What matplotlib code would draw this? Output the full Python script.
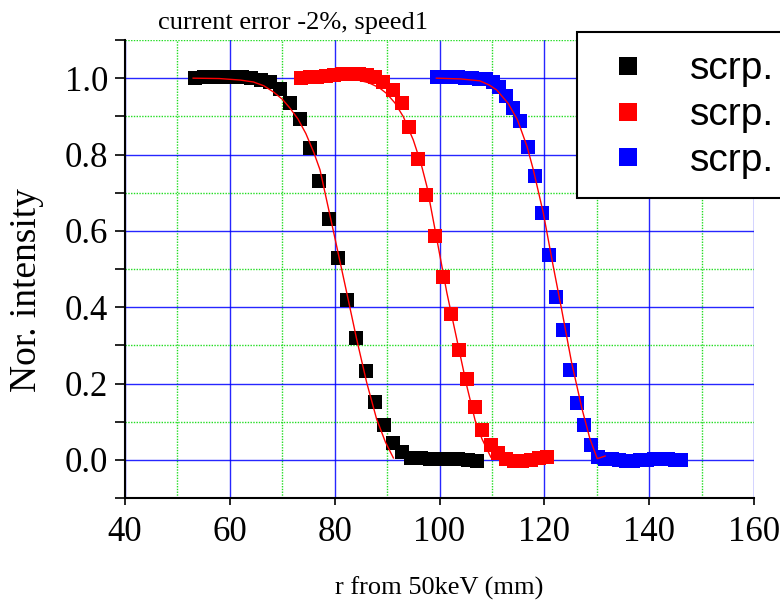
import matplotlib
matplotlib.use("Agg")
import matplotlib.pyplot as plt
from matplotlib.ticker import MultipleLocator

# scan data (position in mm, normalised intensity)
black_x = [53.3, 55.1, 56.9, 58.7, 60.5, 62.3, 64.1, 65.9, 67.7, 69.6, 71.5,
           73.4, 75.3, 77.1, 78.9, 80.6, 82.4, 84.1, 86.0, 87.7, 89.4, 91.1,
           92.8, 94.6, 96.4, 98.2, 100.0, 101.8, 103.6, 105.4, 107.2]
black_y = [1.000, 1.002, 1.003, 1.003, 1.003, 1.002, 1.000, 0.996, 0.990, 0.971, 0.936,
           0.892, 0.816, 0.731, 0.632, 0.529, 0.420, 0.320, 0.232, 0.151, 0.090, 0.044,
           0.021, 0.005, 0.004, 0.003, 0.003, 0.002, 0.001, 0.000, -0.002]

red_x = [73.6, 75.2, 76.7, 78.3, 79.9, 81.4, 83.0, 84.6, 86.1, 87.7, 89.3,
         91.1, 92.8, 94.2, 95.9, 97.5, 99.2, 100.7, 102.2, 103.7, 105.2, 106.8,
         108.2, 109.8, 111.2, 112.7, 114.3, 115.8, 117.4, 119.0, 120.6]
red_y = [1.000, 1.002, 1.004, 1.006, 1.008, 1.010, 1.011, 1.011, 1.009, 1.004, 0.990,
         0.969, 0.936, 0.873, 0.788, 0.695, 0.587, 0.479, 0.381, 0.288, 0.211, 0.139,
         0.078, 0.039, 0.018, 0.001, -0.002, -0.002, 0.000, 0.004, 0.008]

blue_x = [99.6, 100.9, 102.2, 103.6, 104.9, 106.2, 107.6, 108.9,
          110.3, 111.4, 112.7, 114.1, 115.4, 116.9, 118.2, 119.6, 120.9, 122.3,
          123.5, 124.9, 126.2, 127.6, 128.9,
          130.3, 131.6, 132.9, 134.3, 135.6, 136.9, 138.3, 139.6, 140.9, 142.2,
          143.6, 144.9, 146.1]
blue_y = [1.003, 1.003, 1.003, 1.002, 1.001, 1.000, 0.999, 0.997,
          0.990, 0.976, 0.953, 0.922, 0.888, 0.819, 0.744, 0.647, 0.537, 0.426,
          0.339, 0.235, 0.149, 0.090, 0.039,
          0.008, 0.003, 0.001, -0.001, -0.002, -0.002, -0.001, 0.000, 0.001, 0.002,
          0.001, 0.000, -0.001]

# fitted curves as drawn in the chart
fit_black_x = [53.0, 58.0, 62.0, 64.5, 66.5, 68.3, 70.0, 71.5, 73.0, 74.5, 76.0,
               77.2, 79.0, 80.6, 82.3, 84.2, 86.1, 88.0, 89.7, 91.2]
fit_black_y = [1.000, 0.999, 0.995, 0.990, 0.980, 0.964, 0.945, 0.921, 0.893, 0.855, 0.806,
               0.760, 0.647, 0.546, 0.438, 0.316, 0.203, 0.107, 0.046, 0.005]
fit_red_x = [73.5, 80.0, 83.6, 86.5, 88.5, 89.9, 91.5, 93.1, 95.0, 96.5, 97.6,
             99.0, 100.5, 101.4, 103.3, 105.2, 106.8, 108.1, 109.8]
fit_red_y = [1.000, 1.000, 0.998, 0.988, 0.975, 0.960, 0.935, 0.899, 0.838, 0.775, 0.716,
             0.614, 0.504, 0.438, 0.316, 0.194, 0.103, 0.055, 0.007]
fit_blue_x = [99.4, 104.0, 107.7, 109.5, 110.9, 113.1, 114.9, 116.7, 117.9, 119.8,
              121.7, 123.3, 125.2, 127.2, 128.7, 130.1, 131.6]
fit_blue_y = [1.000, 0.998, 0.993, 0.982, 0.969, 0.934, 0.890, 0.821, 0.760, 0.647,
              0.507, 0.394, 0.255, 0.133, 0.055, 0.003, 0.010]

labels = ["scrp.", "scrp.", "scrp."]
colors = ["#000000", "#ff0000", "#0000ff"]

serif = "Liberation Serif"

fig = plt.figure(figsize=(7.8, 6.0), dpi=100)
ax = fig.add_axes([125 / 780, 1 - 498 / 600, 629 / 780, 458 / 600])

series = [(black_x, black_y), (red_x, red_y), (blue_x, blue_y)]
for (xs, ys), c, lab in zip(series, colors, labels):
    ax.plot(xs, ys, "s", color=c, markersize=10, markeredgewidth=0, label=lab, zorder=3)

for fx, fy in [(fit_black_x, fit_black_y), (fit_red_x, fit_red_y), (fit_blue_x, fit_blue_y)]:
    ax.plot(fx, fy, "-", color="#ff0000", linewidth=1.0, zorder=4)

ax.set_xlim(40, 160)
ax.set_ylim(-0.1, 1.1)
ax.xaxis.set_major_locator(MultipleLocator(20))
ax.xaxis.set_minor_locator(MultipleLocator(10))
ax.yaxis.set_major_locator(MultipleLocator(0.2))
ax.yaxis.set_minor_locator(MultipleLocator(0.1))
ax.yaxis.set_major_formatter(plt.FormatStrFormatter("%.1f"))

ax.grid(which="major", color="#0000ff", linewidth=1.0, alpha=0.85, zorder=0)
ax.grid(which="minor", color="#22dd22", linewidth=1.0, linestyle=(0, (1, 1)), zorder=0)
ax.set_axisbelow(True)

for side in ["top", "right"]:
    ax.spines[side].set_visible(False)
for side in ["left", "bottom"]:
    ax.spines[side].set_linewidth(1.5)

ax.tick_params(axis="y", which="both", direction="out", length=7, width=1.2, pad=5)
ax.tick_params(axis="x", which="major", direction="out", length=5, width=1.2, pad=8)
ax.tick_params(axis="x", which="minor", length=0)
for lab in ax.get_xticklabels() + ax.get_yticklabels():
    lab.set_fontfamily(serif)
    lab.set_fontsize(25)

fig.text(158 / 780, 1 - 29 / 600, "current error -2%, speed1",
         fontfamily=serif, fontsize=19, va="baseline", ha="left")
fig.text(439 / 780, 1 - 588 / 600, "r from 50keV (mm)",
         fontfamily=serif, fontsize=19, va="center", ha="center")
fig.text(27 / 780, 1 - 290 / 600, "Nor. intensity", rotation=90,
         fontfamily=serif, fontsize=27, va="center", ha="center")

leg = ax.legend(loc="upper left", bbox_to_anchor=(577 / 780, 1 - 32 / 600),
                bbox_transform=fig.transFigure, borderaxespad=0,
                prop={"family": "Liberation Sans", "size": 28},
                markerscale=1.3, handlelength=1.6, handletextpad=0.8,
                labelspacing=0.25, borderpad=0.5, fancybox=False, framealpha=1)
leg.get_frame().set_edgecolor("black")
leg.get_frame().set_linewidth(1.5)

fig.savefig("out.png", dpi=100)
